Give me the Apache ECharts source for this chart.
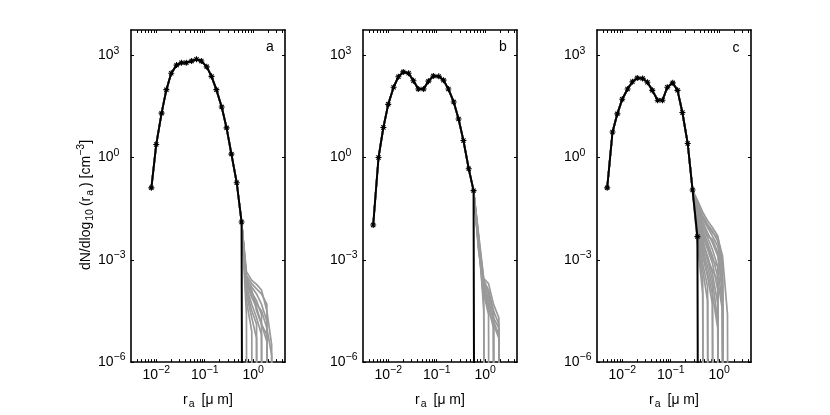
<!DOCTYPE html>
<html>
<head>
<meta charset="utf-8">
<script src="https://cdn.jsdelivr.net/npm/echarts@6/dist/echarts.min.js"></script>
<style>
  html, body { margin: 0; padding: 0; background: #fff; }
  #main { width: 830px; height: 415px; }
</style>
</head>
<body>
<div id="main"></div>
<script>
// bin radii r_a [um], same bins in all three panels
const rBins = [0.00490, 0.00631, 0.00794, 0.0100, 0.0129, 0.0162, 0.0204, 0.0263, 0.0331, 0.0417,
  0.0537, 0.0676, 0.0851, 0.110, 0.138, 0.174, 0.224, 0.282, 0.355, 0.457,
  0.575, 0.724, 0.933, 1.17, 1.48, 1.91, 2.40, 3.02, 3.89];

// dN/dlog10(r_a) [cm^-3], black curve (null = no bin, 0 = empty bin)
const aMain = [null, null, 0.129, 2.40, 20.0, 97.7, 295, 513, 603, 603, 676, 759, 676, 457, 240, 97.7, 30.2, 7.41, 1.26, 0.182, 0.0129, 0];
const bMain = [0.0105, 1.00, 7.59, 36.3, 115, 234, 324, 295, 178, 102, 102, 174, 245, 240, 186, 102, 42.7, 13.5, 3.16, 0.468, 0.107, 0];
const cMain = [0.129, 5.62, 19.1, 51.3, 102, 166, 214, 209, 162, 93.3, 47.9, 47.9, 115, 155, 93.3, 20.9, 2.57, 0.112, 0.00479, 0];

// grey ensemble members: they follow the black curve, then these tail values
const aTailStart = 21;
const aTails = [
  [4.5e-4, 2.5e-4, 1.9e-4, 1.3e-4, 3.2e-5, 3.2e-6, 0],
  [3.5e-4, 2.0e-4, 1.4e-4, 1.0e-4, 5.0e-5, 0],
  [2.8e-4, 1.6e-4, 1.0e-4, 5.0e-5, 1.6e-5, 0],
  [2.5e-4, 1.1e-4, 6.3e-5, 2.5e-5, 0],
  [2.0e-4, 7.9e-5, 4.0e-5, 1.3e-5, 4.0e-6, 0],
  [1.6e-4, 5.0e-5, 2.0e-5, 6.3e-6, 0],
  [1.3e-4, 3.2e-5, 1.3e-5, 0],
  [1.0e-4, 2.0e-5, 5.0e-6, 0],
  [6.3e-5, 7.9e-6, 0],
  [2.5e-5, 0],
  [3.2e-4, 1.3e-4, 3.2e-5, 1.3e-5, 6.3e-6, 0],
  [2.2e-4, 1.0e-4, 5.0e-5, 3.2e-5, 1.0e-5, 1.6e-6, 0]
];

const bTailStart = 21;
const bTails = [
  [6.3e-3, 2.8e-4, 2.0e-4, 5.0e-5, 2.0e-5, 0],
  [5.0e-3, 2.5e-4, 1.3e-4, 3.2e-5, 1.3e-5, 0],
  [4.0e-3, 2.2e-4, 1.0e-4, 2.5e-5, 0],
  [3.2e-3, 1.6e-4, 6.3e-5, 1.6e-5, 6.3e-6, 0],
  [2.5e-3, 1.3e-4, 4.0e-5, 1.0e-5, 0],
  [4.5e-3, 1.0e-4, 2.5e-5, 0],
  [3.5e-3, 2.0e-4, 5.0e-5, 2.0e-5, 1.0e-5, 0],
  [2.8e-3, 6.3e-5, 0],
  [2.0e-3, 1.6e-4, 7.9e-5, 3.2e-5, 0],
  [5.5e-3, 3.2e-5, 0],
  [3.0e-3, 1.1e-4, 3.2e-5, 1.3e-5, 5.0e-6, 0]
];

const cTailStart = 18;
const cTails = [
  [0.056, 0.025, 0.014, 0.0089, 0.0050, 7.9e-4, 0],
  [0.045, 0.020, 0.011, 0.0071, 0.0035, 5.0e-4, 0],
  [0.035, 0.016, 0.0089, 0.0050, 0.0025, 2.5e-4, 0],
  [0.032, 0.013, 0.0063, 0.0032, 0.0013, 1.0e-4, 0],
  [0.025, 0.010, 0.0045, 0.0020, 6.3e-4, 4.0e-5, 0],
  [0.020, 0.0079, 0.0032, 0.0013, 3.2e-4, 0],
  [0.016, 0.0050, 0.0020, 7.9e-4, 1.3e-4, 0],
  [0.013, 0.0032, 0.0013, 4.0e-4, 5.0e-5, 0],
  [0.010, 0.0020, 6.3e-4, 1.6e-4, 0],
  [0.0079, 0.0013, 3.2e-4, 5.0e-5, 0],
  [0.0063, 7.9e-4, 1.6e-4, 0],
  [0.0050, 5.0e-4, 6.3e-5, 0],
  [0.0040, 2.5e-4, 0],
  [0.0032, 1.0e-4, 0],
  [0.028, 0.010, 0.0050, 0.0040, 0.0016, 1.6e-4, 0],
  [0.022, 0.0063, 0.0025, 0.0010, 6.3e-4, 0],
  [0.018, 0.0040, 0.0010, 5.0e-4, 2.5e-4, 3.2e-5, 0],
  [0.011, 0.0025, 0.0010, 2.5e-4, 1.6e-5, 0],
  [0.0089, 0.0016, 4.0e-4, 1.0e-4, 1.0e-5, 0],
  [0.040, 0.018, 0.010, 0.0063, 0.0045, 0.0013, 2.5e-5, 0]
];

const panelLetters = ['a', 'b', 'c'];
const xMajor = [-2, -1, 0];      // log10 of 10^-2 .. 10^0
const yMajor = [-6, -3, 0, 3];   // log10 of 10^-6 .. 10^3

const FONT = '"Liberation Sans", Arial, Helvetica, sans-serif';
const X_MIN = -2.52, X_MAX = 0.655, Y_MIN = -6, Y_MAX = 3.74;
const LOG_ZERO = -60; // empty bins fall far below the axis and get clipped

// minor ticks at 2..9 x 10^n like matlab
let xMinor = [];
for (let n = -3; n <= 0; n++) {
  for (let k = 2; k <= 9; k++) {
    let t = n + Math.log10(k);
    if (t > X_MIN && t < X_MAX) xMinor.push(t);
  }
}

const supText = v => {
  let n = Math.round(v);
  return '10{sup|' + (n < 0 ? '\u2212' + (-n) : n) + '}';
};

const richSup = { fontSize: 10.5, lineHeight: 8, verticalAlign: 'top', fontFamily: FONT, color: '#000' };
const richSub = { fontSize: 10.5, lineHeight: 8, verticalAlign: 'bottom', fontFamily: FONT, color: '#000', padding: [0, 3, 0, 1] };

const toPoints = vals => {
  let pts = [];
  vals.forEach((v, i) => {
    if (v === null || v === undefined) return;
    let x = Math.log10(rBins[i]);
    if (v === 0) pts.push({ value: [x, LOG_ZERO], symbol: 'none' });
    else pts.push([x, Math.log10(v)]);
  });
  return pts;
};

const panels = [
  { main: aMain, tails: aTails, start: aTailStart, left: 131 },
  { main: bMain, tails: bTails, start: bTailStart, left: 363 },
  { main: cMain, tails: cTails, start: cTailStart, left: 597 }
];

const axisLine = { show: true, onZero: false, lineStyle: { color: '#000', width: 1.6 } };
const tickStyle = { color: '#000', width: 1 };

let grid = [], xAxis = [], yAxis = [], series = [], graphic = [];

panels.forEach((p, i) => {
  grid.push({ left: p.left, top: 30, width: 154, height: 339, show: false });
});

// bottom x axes
panels.forEach((p, i) => {
  xAxis.push({
    type: 'value', gridIndex: i, min: X_MIN, max: X_MAX, position: 'bottom',
    axisLine: axisLine,
    axisTick: { show: true, inside: true, length: 3, customValues: xMajor.concat(xMinor), lineStyle: tickStyle },
    axisLabel: {
      customValues: xMajor, formatter: supText, margin: 3,
      fontSize: 14, lineHeight: 20, fontFamily: FONT, color: '#000',
      rich: { sup: richSup }
    },
    splitLine: { show: false },
    name: 'r{sub|a} [\u03bc m]', nameLocation: 'middle', nameGap: 16,
    nameTextStyle: { fontSize: 14, lineHeight: 20, fontFamily: FONT, color: '#000', rich: { sub: richSub } }
  });
});
// top x axes (ticks only)
panels.forEach((p, i) => {
  xAxis.push({
    type: 'value', gridIndex: i, min: X_MIN, max: X_MAX, position: 'top',
    axisLine: axisLine,
    axisTick: { show: true, inside: true, length: 3, customValues: xMajor.concat(xMinor), lineStyle: tickStyle },
    axisLabel: { show: false },
    splitLine: { show: false }
  });
});
// left y axes
panels.forEach((p, i) => {
  yAxis.push({
    type: 'value', gridIndex: i, min: Y_MIN, max: Y_MAX, position: 'left',
    axisLine: axisLine,
    axisTick: { show: true, inside: true, length: 3, customValues: yMajor, lineStyle: tickStyle },
    axisLabel: {
      customValues: yMajor, formatter: supText, margin: 33, align: 'left',
      fontSize: 14, lineHeight: 20, fontFamily: FONT, color: '#000',
      rich: { sup: richSup }
    },
    splitLine: { show: false }
  });
});
// right y axes (ticks only)
panels.forEach((p, i) => {
  yAxis.push({
    type: 'value', gridIndex: i, min: Y_MIN, max: Y_MAX, position: 'right',
    axisLine: axisLine,
    axisTick: { show: true, inside: true, length: 3, customValues: yMajor, lineStyle: tickStyle },
    axisLabel: { show: false },
    splitLine: { show: false }
  });
});

const asterisk = 'path://M0,5L10,5M5,0L5,10M1.5,1.5L8.5,8.5M8.5,1.5L1.5,8.5';

panels.forEach((p, i) => {
  // grey members first
  p.tails.forEach(tail => {
    series.push({
      type: 'line', xAxisIndex: i, yAxisIndex: i,
      data: toPoints(p.main.slice(0, p.start).concat(tail)),
      showSymbol: false, symbol: 'none', clip: true, silent: true,
      lineStyle: { color: '#999999', width: 1.7 }
    });
  });
  // black curve on top
  series.push({
    type: 'line', xAxisIndex: i, yAxisIndex: i,
    data: toPoints(p.main),
    symbol: asterisk, symbolSize: 6, showSymbol: true, clip: true, silent: true,
    lineStyle: { color: '#000', width: 2 },
    itemStyle: { color: '#000', borderColor: '#000', borderWidth: 1.1 }
  });
});

// panel letters
const letterPos = [[270, 47], [503, 47], [736, 48]];
panelLetters.forEach((l, i) => {
  graphic.push({
    type: 'text', x: letterPos[i][0], y: letterPos[i][1], silent: true,
    style: { text: l, fontSize: 14, fontFamily: FONT, fill: '#000',
      align: 'center', verticalAlign: 'middle', textAlign: 'center', textVerticalAlign: 'middle' }
  });
});

// y axis title
graphic.push({
  type: 'text', x: 86, y: 205, rotation: Math.PI / 2, silent: true,
  style: {
    text: 'dN/dlog{sub|10}(r{sub|a}) [cm{sup|\u22123}]',
    fontSize: 14, fontFamily: FONT, fill: '#000', lineHeight: 20,
    align: 'center', verticalAlign: 'middle', textAlign: 'center', textVerticalAlign: 'middle',
    rich: { sub: richSub, sup: richSup }
  }
});

let myChart = echarts.init(document.getElementById('main'), null, { renderer: 'canvas' });
myChart.setOption({
  animation: false,
  backgroundColor: '#fff',
  grid: grid,
  xAxis: xAxis,
  yAxis: yAxis,
  series: series,
  graphic: graphic
});
</script>
</body>
</html>
